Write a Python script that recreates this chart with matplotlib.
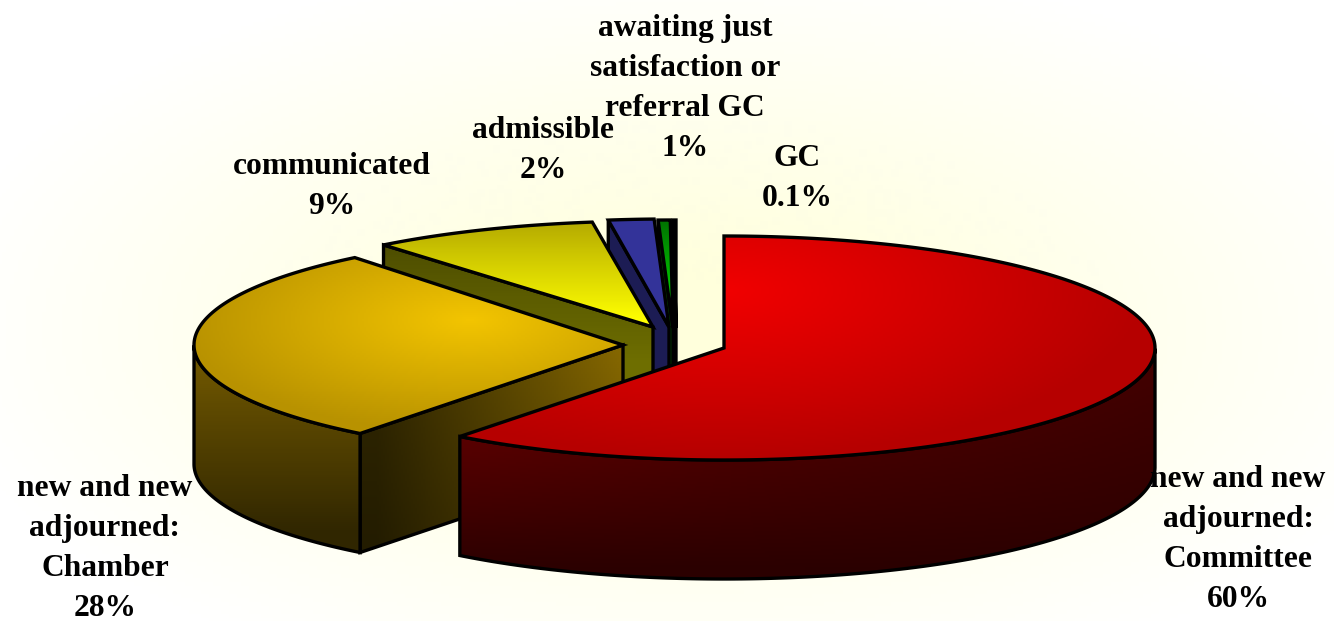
import numpy as np
import matplotlib
matplotlib.use("Agg")
import matplotlib.pyplot as plt
from matplotlib.patches import Polygon

# ---- data ----
categories = ["new and new\nadjourned:\nCommittee", "new and new\nadjourned:\nChamber",
              "communicated", "admissible", "awaiting just\nsatisfaction or\nreferral GC", "GC"]
percent_labels = ["60%", "28%", "9%", "2%", "1%", "0.1%"]
slice_shares = [60.5, 28.75, 8.5, 1.7, 0.45, 0.1]

# ---- geometry / style (figure pixels) ----
W, H = 1334, 621
centers = [(724, 348), (623, 345), (653, 330), (669, 328), (673, 329), (676, 329)]
tips = [(724, 348), (623, 345), (653, 327), (669, 327), (673, 328), (676, 328)]
radii = [(431, 112), (429, 112), (431, 109), (431, 109), (431, 109), (431, 109)]
DEPTH = 119
label_pos = [(1238, 539.5), (105, 548.5), (332, 186.5), (543, 150.5), (685, 88.5), (797, 178.5)]
EDGE = 2.4

fig = plt.figure(figsize=(W / 100, H / 100), dpi=100)
ax = fig.add_axes([0, 0, 1, 1])
ax.set_axis_off()


def grad_image(x0, x1, y0, y1, func, step=2):
    xs = np.arange(x0, x1 + step, step)
    ys = np.arange(y0, y1 + step, step)
    X, Y = np.meshgrid(xs, ys)
    return np.clip(func(X, Y), 0, 255).astype(np.uint8), (xs[0], xs[-1], ys[-1], ys[0])


def mix(c0, c1, t):
    t = np.clip(t, 0, 1)[..., None]
    return np.array(c0, float) * (1 - t) + np.array(c1, float) * t


def fill(pts, func, z):
    pts = np.asarray(pts)
    x0, y0 = np.floor(pts.min(axis=0)).astype(int)
    x1, y1 = np.ceil(pts.max(axis=0)).astype(int)
    arr, ext = grad_image(x0 - 2, x1 + 2, y0 - 2, y1 + 2, func)
    im = ax.imshow(arr, extent=ext, aspect="auto", interpolation="bilinear", zorder=z)
    clip = Polygon(pts, closed=True, transform=ax.transData, facecolor="none", edgecolor="none")
    ax.add_patch(clip)
    im.set_clip_path(clip)
    ax.add_patch(Polygon(pts, closed=True, facecolor="none", edgecolor="black",
                         linewidth=EDGE, joinstyle="miter", zorder=z + 0.1))


# background
def bg(X, Y):
    r = np.sqrt(((X - 690) / 690) ** 2 + ((Y - 330) / 340) ** 2)
    return mix((255, 255, 220), (255, 255, 255), (r - 0.15) / 0.95)


arr, ext = grad_image(0, W, 0, H, bg, step=4)
ax.imshow(arr, extent=ext, aspect="auto", interpolation="bilinear", zorder=0)


# shaders
def red_top(X, Y):
    r = np.sqrt(((X - 720) / 430) ** 2 + ((Y - 290) / 170) ** 2)
    return mix((242, 0, 0), (182, 0, 0), r / 1.0)


def red_wall(X, Y):
    t = (Y - 370) / 200
    a = mix((112, 0, 0), (44, 0, 0), t)
    b = mix((66, 0, 0), (42, 0, 0), t)
    u = np.clip((X - 460) / 690, 0, 1)[..., None]
    return a * (1 - u) + b * u


def amber_top(X, Y):
    r = np.sqrt(((X - 470) / 290) ** 2 + ((Y - 320) / 115) ** 2)
    return mix((243, 197, 0), (184, 146, 0), r)


def amber_wall(X, Y):
    return mix((118, 92, 0), (48, 38, 0), (Y - 345) / 190)


def amber_cut(X, Y):
    c = mix((50, 40, 0), (134, 104, 0), (X - 375) / 245)
    return c * (1 - 0.3 * np.clip((Y - 345) / 205, 0, 1))[..., None]


def yellow_top(X, Y):
    return mix((182, 172, 0), (255, 255, 0), (Y - 222) / 100)


def yellow_cut(X, Y):
    return mix((78, 78, 0), (110, 110, 0), (Y - 245) / 115)


def flat(c):
    return lambda X, Y: np.ones(X.shape + (3,)) * np.array(c, float)


def green_top(X, Y):
    return mix((0, 115, 0), (0, 235, 0), (Y - 220) / 100)


top_shaders = [red_top, amber_top, yellow_top, flat((51, 51, 153)), green_top, flat((0, 90, 0))]
cut_shaders = [None, amber_cut, yellow_cut, flat((28, 28, 84)), flat((0, 70, 0)), flat((0, 60, 0))]
wall_shaders = [red_wall, amber_wall, None, None, None, None]

# slice angles: clockwise from 12 o'clock
shares = np.asarray(slice_shares, float)
sweeps = shares / shares.sum() * 360.0
starts = 90 - np.concatenate(([0], np.cumsum(sweeps)[:-1]))
ends = starts - sweeps


def rim(i, angles):
    a = np.radians(angles)
    cx, cy = centers[i]
    rx, ry = radii[i]
    return np.column_stack((cx + rx * np.cos(a), cy - ry * np.sin(a)))


draw_order = [5, 4, 3, 2, 1, 0]
for k, i in enumerate(draw_order):
    z = 2 + k
    n = max(8, int(sweeps[i] * 2))
    angs = np.linspace(starts[i], ends[i], n)
    arc = rim(i, angs)
    tip = np.array(tips[i], float)
    down = np.array([0, DEPTH])
    # cut face along the first edge of the slice
    if cut_shaders[i] is not None:
        fill([tip, arc[0], arc[0] + down, tip + down], cut_shaders[i], z)
    # outer wall where the rim faces the viewer
    if wall_shaders[i] is not None:
        vis = angs[np.sin(np.radians(angs)) <= 0]
        wall = rim(i, vis)
        fill(np.vstack((wall, (wall + down)[::-1])), wall_shaders[i], z + 0.2)
    fill(np.vstack((tip, arc)), top_shaders[i], z + 0.4)

# labels
for name, pct, (x, y) in zip(categories, percent_labels, label_pos):
    ax.text(x, y, name + "\n" + pct, ha="center", va="center", ma="center",
            family="Liberation Serif", fontweight="bold", fontsize=22.7,
            linespacing=1.5, color="black", zorder=30)

ax.set_xlim(0, W)
ax.set_ylim(H, 0)
fig.savefig("out.png", dpi=100)
